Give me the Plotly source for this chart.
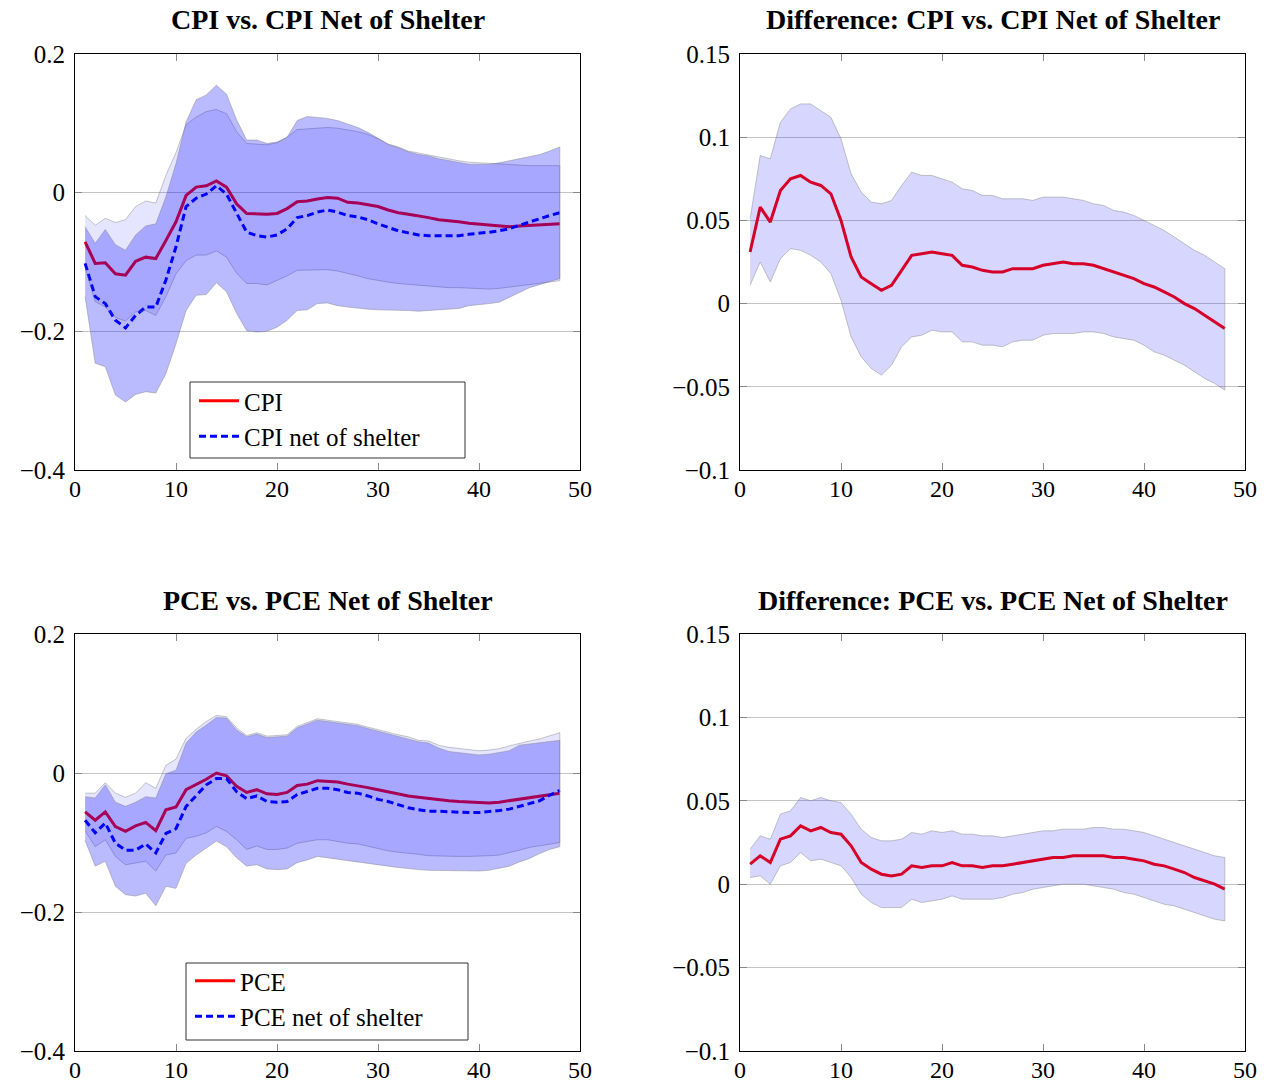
import plotly.graph_objects as go

# ---------------------------------------------------------------- data
horizon = list(range(1, 49))

# CPI vs. CPI net of shelter: impulse responses and bands
cpi = [-0.071, -0.102, -0.101, -0.117, -0.119, -0.099, -0.093, -0.095, -0.069, -0.042,
       -0.004, 0.008, 0.010, 0.017, 0.008, -0.016, -0.030, -0.031, -0.031, -0.030,
       -0.023, -0.013, -0.012, -0.009, -0.007, -0.008, -0.014, -0.015, -0.017, -0.020,
       -0.025, -0.029, -0.031, -0.033, -0.036, -0.039, -0.040, -0.042, -0.044, -0.045,
       -0.047, -0.048, -0.049, -0.048, -0.047, -0.047, -0.046, -0.045]
cpi_upper = [-0.033, -0.047, -0.037, -0.043, -0.039, -0.020, -0.012, -0.015, 0.025, 0.058,
             0.098, 0.109, 0.117, 0.120, 0.114, 0.088, 0.071, 0.070, 0.069, 0.072,
             0.080, 0.091, 0.092, 0.094, 0.094, 0.093, 0.091, 0.088, 0.084, 0.078,
             0.070, 0.066, 0.060, 0.057, 0.054, 0.052, 0.049, 0.046, 0.044, 0.043,
             0.042, 0.041, 0.040, 0.039, 0.039, 0.039, 0.039, 0.039]
cpi_lower = [-0.109, -0.157, -0.165, -0.180, -0.185, -0.172, -0.170, -0.177, -0.150, -0.117,
             -0.098, -0.090, -0.090, -0.084, -0.093, -0.116, -0.131, -0.131, -0.133, -0.127,
             -0.120, -0.112, -0.111, -0.111, -0.111, -0.113, -0.116, -0.120, -0.124, -0.127,
             -0.129, -0.131, -0.133, -0.134, -0.135, -0.136, -0.137, -0.137, -0.138, -0.138,
             -0.139, -0.138, -0.137, -0.135, -0.133, -0.131, -0.129, -0.127]

cpi_net = [-0.102, -0.150, -0.160, -0.184, -0.195, -0.177, -0.165, -0.165, -0.126, -0.078,
           -0.020, -0.008, -0.002, 0.010, -0.002, -0.030, -0.057, -0.062, -0.064, -0.061,
           -0.052, -0.036, -0.033, -0.028, -0.025, -0.028, -0.033, -0.035, -0.039, -0.045,
           -0.050, -0.055, -0.058, -0.061, -0.062, -0.062, -0.062, -0.062, -0.060, -0.059,
           -0.057, -0.055, -0.052, -0.047, -0.042, -0.037, -0.033, -0.029]
cpi_net_upper = [-0.049, -0.073, -0.053, -0.075, -0.083, -0.061, -0.048, -0.045, -0.006, 0.042,
                 0.102, 0.134, 0.141, 0.155, 0.142, 0.105, 0.076, 0.076, 0.071, 0.073,
                 0.080, 0.104, 0.110, 0.109, 0.107, 0.104, 0.099, 0.094, 0.087, 0.078,
                 0.070, 0.065, 0.059, 0.055, 0.053, 0.049, 0.046, 0.043, 0.041, 0.041,
                 0.041, 0.043, 0.046, 0.049, 0.052, 0.055, 0.060, 0.066]
cpi_net_lower = [-0.150, -0.246, -0.251, -0.292, -0.302, -0.291, -0.287, -0.289, -0.261, -0.218,
                 -0.170, -0.148, -0.147, -0.130, -0.143, -0.174, -0.199, -0.201, -0.200, -0.194,
                 -0.184, -0.170, -0.169, -0.160, -0.159, -0.163, -0.165, -0.167, -0.168, -0.169,
                 -0.170, -0.170, -0.170, -0.171, -0.170, -0.169, -0.168, -0.167, -0.163, -0.161,
                 -0.160, -0.158, -0.151, -0.144, -0.137, -0.133, -0.128, -0.124]

# Difference: CPI minus CPI net of shelter
cpi_diff = [0.031, 0.058, 0.049, 0.068, 0.075, 0.077, 0.073, 0.071, 0.066, 0.050,
            0.028, 0.016, 0.012, 0.008, 0.011, 0.020, 0.029, 0.030, 0.031, 0.030,
            0.029, 0.023, 0.022, 0.020, 0.019, 0.019, 0.021, 0.021, 0.021, 0.023,
            0.024, 0.025, 0.024, 0.024, 0.023, 0.021, 0.019, 0.017, 0.015, 0.012,
            0.010, 0.007, 0.004, 0.000, -0.003, -0.007, -0.011, -0.015]
cpi_diff_upper = [0.051, 0.089, 0.087, 0.109, 0.117, 0.120, 0.120, 0.116, 0.112, 0.099,
                  0.078, 0.067, 0.061, 0.060, 0.062, 0.071, 0.079, 0.077, 0.077, 0.075,
                  0.073, 0.069, 0.068, 0.065, 0.065, 0.063, 0.063, 0.063, 0.062, 0.064,
                  0.064, 0.064, 0.063, 0.062, 0.060, 0.059, 0.056, 0.055, 0.053, 0.050,
                  0.047, 0.044, 0.040, 0.036, 0.032, 0.029, 0.025, 0.021]
cpi_diff_lower = [0.011, 0.025, 0.013, 0.027, 0.033, 0.032, 0.029, 0.025, 0.018, 0.002,
                  -0.020, -0.032, -0.039, -0.043, -0.037, -0.026, -0.020, -0.019, -0.016, -0.017,
                  -0.017, -0.023, -0.023, -0.025, -0.025, -0.026, -0.023, -0.022, -0.022, -0.019,
                  -0.018, -0.018, -0.018, -0.017, -0.017, -0.018, -0.020, -0.021, -0.022, -0.025,
                  -0.029, -0.031, -0.034, -0.037, -0.041, -0.045, -0.048, -0.052]

# PCE vs. PCE net of shelter
pce = [-0.056, -0.068, -0.056, -0.077, -0.084, -0.076, -0.071, -0.083, -0.053, -0.049,
       -0.024, -0.017, -0.009, 0.000, -0.004, -0.019, -0.028, -0.024, -0.030, -0.031,
       -0.028, -0.018, -0.016, -0.011, -0.012, -0.013, -0.016, -0.018, -0.021, -0.024,
       -0.027, -0.031, -0.033, -0.035, -0.037, -0.039, -0.040, -0.041, -0.042, -0.042,
       -0.043, -0.042, -0.040, -0.038, -0.036, -0.034, -0.031, -0.029]
pce_upper = [-0.029, -0.029, -0.014, -0.029, -0.035, -0.029, -0.014, -0.022, 0.011, 0.020,
             0.050, 0.063, 0.074, 0.083, 0.081, 0.065, 0.054, 0.058, 0.053, 0.054,
             0.055, 0.067, 0.072, 0.078, 0.076, 0.074, 0.073, 0.070, 0.066, 0.062,
             0.059, 0.055, 0.052, 0.047, 0.046, 0.040, 0.037, 0.035, 0.033, 0.032,
             0.033, 0.035, 0.039, 0.043, 0.046, 0.049, 0.053, 0.058]
pce_lower = [-0.083, -0.106, -0.096, -0.120, -0.132, -0.129, -0.127, -0.141, -0.118, -0.115,
             -0.094, -0.091, -0.086, -0.077, -0.084, -0.096, -0.110, -0.105, -0.110, -0.110,
             -0.108, -0.101, -0.098, -0.096, -0.096, -0.098, -0.101, -0.102, -0.106, -0.109,
             -0.112, -0.114, -0.116, -0.117, -0.119, -0.119, -0.120, -0.120, -0.120, -0.120,
             -0.119, -0.118, -0.115, -0.111, -0.107, -0.104, -0.102, -0.100]

pce_net = [-0.068, -0.086, -0.072, -0.101, -0.111, -0.111, -0.102, -0.115, -0.087, -0.080,
           -0.048, -0.032, -0.017, -0.008, -0.008, -0.027, -0.037, -0.033, -0.041, -0.042,
           -0.041, -0.031, -0.026, -0.022, -0.022, -0.024, -0.028, -0.029, -0.033, -0.038,
           -0.041, -0.046, -0.050, -0.053, -0.055, -0.055, -0.056, -0.057, -0.057, -0.057,
           -0.056, -0.054, -0.052, -0.048, -0.044, -0.040, -0.032, -0.025]
pce_net_upper = [-0.034, -0.036, -0.017, -0.042, -0.048, -0.042, -0.034, -0.036, -0.001, 0.004,
                 0.043, 0.059, 0.069, 0.080, 0.079, 0.062, 0.052, 0.056, 0.051, 0.052,
                 0.053, 0.065, 0.070, 0.076, 0.074, 0.072, 0.071, 0.068, 0.064, 0.060,
                 0.057, 0.053, 0.049, 0.045, 0.043, 0.036, 0.031, 0.029, 0.027, 0.026,
                 0.027, 0.029, 0.032, 0.040, 0.042, 0.043, 0.045, 0.047]
pce_net_lower = [-0.097, -0.134, -0.127, -0.163, -0.175, -0.177, -0.173, -0.191, -0.163, -0.166,
                 -0.130, -0.118, -0.108, -0.098, -0.106, -0.122, -0.134, -0.132, -0.138, -0.139,
                 -0.138, -0.129, -0.125, -0.120, -0.121, -0.124, -0.126, -0.128, -0.130, -0.132,
                 -0.134, -0.136, -0.138, -0.139, -0.140, -0.140, -0.140, -0.141, -0.141, -0.141,
                 -0.140, -0.137, -0.134, -0.128, -0.123, -0.116, -0.110, -0.106]

# Difference: PCE minus PCE net of shelter
pce_diff = [0.012, 0.017, 0.013, 0.027, 0.029, 0.035, 0.032, 0.034, 0.031, 0.030,
            0.023, 0.013, 0.009, 0.006, 0.005, 0.006, 0.011, 0.010, 0.011, 0.011,
            0.013, 0.011, 0.011, 0.010, 0.011, 0.011, 0.012, 0.013, 0.014, 0.015,
            0.016, 0.016, 0.017, 0.017, 0.017, 0.017, 0.016, 0.016, 0.015, 0.014,
            0.012, 0.011, 0.009, 0.007, 0.004, 0.002, 0.000, -0.003]
pce_diff_upper = [0.021, 0.029, 0.027, 0.042, 0.044, 0.052, 0.050, 0.052, 0.050, 0.049,
                  0.042, 0.033, 0.028, 0.026, 0.026, 0.027, 0.031, 0.030, 0.032, 0.031,
                  0.032, 0.030, 0.030, 0.029, 0.029, 0.028, 0.029, 0.030, 0.031, 0.032,
                  0.032, 0.033, 0.033, 0.033, 0.034, 0.034, 0.033, 0.033, 0.032, 0.031,
                  0.029, 0.027, 0.025, 0.023, 0.021, 0.019, 0.017, 0.016]
pce_diff_lower = [0.004, 0.005, 0.000, 0.011, 0.013, 0.019, 0.014, 0.015, 0.013, 0.011,
                  0.004, -0.006, -0.011, -0.014, -0.014, -0.014, -0.009, -0.011, -0.010, -0.009,
                  -0.007, -0.009, -0.009, -0.009, -0.009, -0.008, -0.006, -0.005, -0.003, -0.002,
                  -0.001, 0.000, 0.000, 0.000, -0.001, -0.002, -0.003, -0.005, -0.006, -0.008,
                  -0.010, -0.012, -0.013, -0.015, -0.017, -0.019, -0.021, -0.022]

# Axis ticks
x_ticks = [0, 10, 20, 30, 40, 50]
level_ticks = [-0.4, -0.2, 0, 0.2]
level_labels = ["\u22120.4", "\u22120.2", "0", "0.2"]
diff_ticks = [-0.1, -0.05, 0, 0.05, 0.1, 0.15]
diff_labels = ["\u22120.1", "\u22120.05", "0", "0.05", "0.1", "0.15"]

titles = ["CPI vs. CPI Net of Shelter", "Difference: CPI vs. CPI Net of Shelter",
          "PCE vs. PCE Net of Shelter", "Difference: PCE vs. PCE Net of Shelter"]

# ---------------------------------------------------------------- style
W, H = 1272, 1084
FONT = "Liberation Serif"
RED = "#ff0000"
BLUE = "#0000ff"
LIGHT_BAND = "rgba(0,0,255,0.10)"
MID_BAND = "rgba(0,0,255,0.27)"
DIFF_BAND = "rgba(0,0,255,0.16)"
EDGE = "rgba(130,130,130,0.45)"

# panel frames in pixels: (left, right, top, bottom)
frames = [(75, 580, 54, 470), (740, 1245, 54, 470),
          (75, 580, 634, 1051), (740, 1245, 634, 1051)]
# legend boxes in pixels: (left, right, top, bottom)
legend_boxes = [(190, 465, 382, 458), (186, 468, 963, 1040)]


def band(x, lo, hi, color, xa, ya):
    return go.Scatter(x=list(x) + list(x)[::-1], y=list(hi) + list(lo)[::-1],
                      fill="toself", fillcolor=color, mode="lines",
                      line=dict(color=EDGE, width=1), hoverinfo="skip",
                      showlegend=False, xaxis=xa, yaxis=ya)


def line(x, y, color, dash, name, xa, ya, legend=None):
    return go.Scatter(x=x, y=y, mode="lines", name=name,
                      line=dict(color=color, width=3, dash=dash),
                      showlegend=legend is not None, legend=legend or "legend",
                      xaxis=xa, yaxis=ya)


fig = go.Figure()

# Top-left: CPI vs. CPI net of shelter (lines underneath the translucent bands)
fig.add_trace(line(horizon, cpi, RED, "solid", "CPI", "x", "y", "legend"))
fig.add_trace(line(horizon, cpi_net, BLUE, "7px,4px", "CPI net of shelter", "x", "y", "legend"))
fig.add_trace(band(horizon, cpi_lower, cpi_upper, LIGHT_BAND, "x", "y"))
fig.add_trace(band(horizon, cpi_net_lower, cpi_net_upper, MID_BAND, "x", "y"))

# Top-right: CPI difference
fig.add_trace(line(horizon, cpi_diff, RED, "solid", "CPI difference", "x2", "y2"))
fig.add_trace(band(horizon, cpi_diff_lower, cpi_diff_upper, DIFF_BAND, "x2", "y2"))

# Bottom-left: PCE vs. PCE net of shelter
fig.add_trace(line(horizon, pce, RED, "solid", "PCE", "x3", "y3", "legend2"))
fig.add_trace(line(horizon, pce_net, BLUE, "7px,4px", "PCE net of shelter", "x3", "y3", "legend2"))
fig.add_trace(band(horizon, pce_lower, pce_upper, LIGHT_BAND, "x3", "y3"))
fig.add_trace(band(horizon, pce_net_lower, pce_net_upper, MID_BAND, "x3", "y3"))

# Bottom-right: PCE difference
fig.add_trace(line(horizon, pce_diff, RED, "solid", "PCE difference", "x4", "y4"))
fig.add_trace(band(horizon, pce_diff_lower, pce_diff_upper, DIFF_BAND, "x4", "y4"))

axis_common = dict(showline=True, linecolor="black", linewidth=1, mirror="ticks",
                   ticks="inside", ticklen=7, tickwidth=1, tickcolor="#8a8a8a",
                   zeroline=False, automargin=False,
                   tickfont=dict(family=FONT, size=25, color="black"))

layout = dict(width=W, height=H, margin=dict(l=0, r=0, t=0, b=0, pad=0, autoexpand=False),
              paper_bgcolor="white", plot_bgcolor="white", showlegend=True,
              font=dict(family=FONT, color="black"))

for i, (l, r, t, b) in enumerate(frames):
    suffix = "" if i == 0 else str(i + 1)
    is_diff = i in (1, 3)
    layout["xaxis" + suffix] = dict(
        axis_common, domain=[l / W, r / W], anchor="y" + suffix,
        range=[0, 50], tickvals=x_ticks, ticktext=[str(v) for v in x_ticks],
        showgrid=False, ticklabelstandoff=-3,
        tickfont=dict(family=FONT, size=24, color="black"))
    layout["yaxis" + suffix] = dict(
        axis_common, domain=[1 - b / H, 1 - t / H], anchor="x" + suffix,
        range=[-0.1, 0.15] if is_diff else [-0.4, 0.2],
        tickvals=diff_ticks if is_diff else level_ticks,
        ticktext=diff_labels if is_diff else level_labels,
        showgrid=True, gridcolor="#c4c4c4", gridwidth=1, ticklabelstandoff=4)

# legend frames drawn as rectangles; entries sit inside them
legend_style = dict(bgcolor="rgba(0,0,0,0)", borderwidth=0,
                    font=dict(family=FONT, size=25, color="black"),
                    xanchor="left", yanchor="top", tracegroupgap=0, itemwidth=40)
layout["legend"] = dict(legend_style, x=194 / W, y=1 - 378 / H)
layout["legend2"] = dict(legend_style, x=190 / W, y=1 - 958 / H)

shapes = []
for (l, r, t, b) in legend_boxes:
    shapes.append(dict(type="rect", xref="paper", yref="paper",
                       x0=l / W, x1=r / W, y0=1 - b / H, y1=1 - t / H,
                       line=dict(color="#333333", width=1), fillcolor="white",
                       layer="above"))
layout["shapes"] = shapes

annotations = []
for (l, r, t, b), title in zip(frames, titles):
    annotations.append(dict(text="<b>" + title + "</b>", xref="paper", yref="paper",
                            x=(l + r) / 2 / W, y=1 - (t - 34) / H,
                            xanchor="center", yanchor="middle", showarrow=False,
                            font=dict(family=FONT, size=28, color="black")))
layout["annotations"] = annotations

fig.update_layout(layout)
fig.write_html("out.html")
